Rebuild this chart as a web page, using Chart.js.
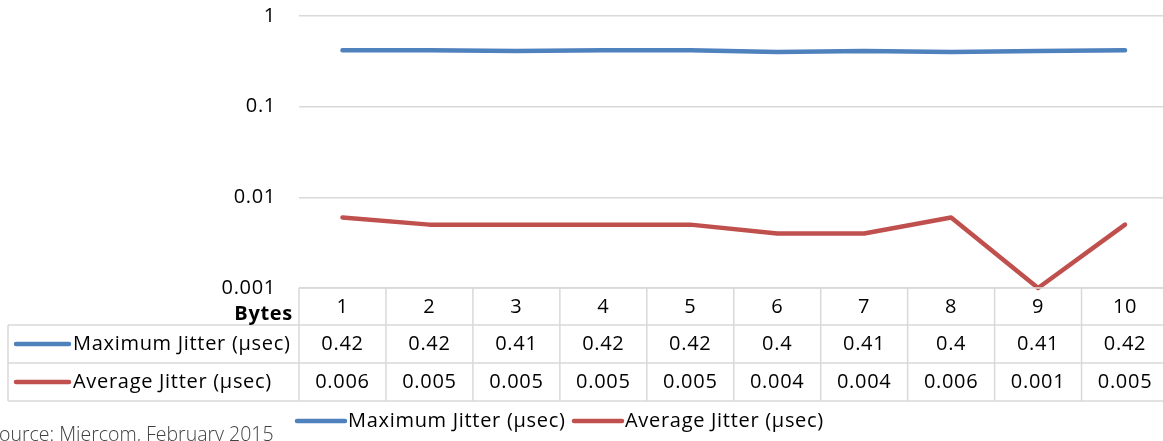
<!DOCTYPE html>
<html>
<head>
<meta charset="utf-8">
<script src="https://cdn.jsdelivr.net/npm/chart.js@4.4.0/dist/chart.umd.min.js"></script>
<style>
  html, body { margin: 0; padding: 0; background: #fff; overflow: hidden; }
  #wrap { width: 1172px; height: 441px; position: relative; }
</style>
</head>
<body>
<div id="wrap"><canvas id="jitterChart"></canvas></div>
<script>
// Jitter by packet size (log scale) with Excel-style data table
const categories = ['1', '2', '3', '4', '5', '6', '7', '8', '9', '10'];
const maxJitter = [0.42, 0.42, 0.41, 0.42, 0.42, 0.4, 0.41, 0.4, 0.41, 0.42];
const avgJitter = [0.006, 0.005, 0.005, 0.005, 0.005, 0.004, 0.004, 0.006, 0.001, 0.005];
const yTicks = [0.001, 0.01, 0.1, 1];
const yTickLabels = ['0.001', '0.01', '0.1', '1'];
const seriesNames = ['Maximum Jitter (µsec)', 'Average Jitter (µsec)'];
const tableHeader = 'Bytes';
const sourceNote = 'Source: Miercom, February 2015';

const FONT = '"Open Sans", sans-serif';
const FSIZE = 20;
const SPACING = '0.7px';
const GRID = '#d9d9d9';

// draws the y labels, the data table, the legend and the source line
const tablePlugin = {
    id: 'dataTable',
    afterDraw(chart) {
        const ctx = chart.ctx;
        const x = chart.scales.x;
        const y = chart.scales.y;
        const area = chart.chartArea;
        const colW = (area.right - area.left) / categories.length;
        const tableLeft = 8;
        const rows = [area.bottom, area.bottom + 37, area.bottom + 75, area.bottom + 113];

        ctx.save();
        ctx.fillStyle = '#000';
        ctx.textBaseline = 'middle';
        ctx.letterSpacing = SPACING;
        ctx.font = FSIZE + 'px ' + FONT;

        // y axis labels, placed with the log scale
        ctx.textAlign = 'right';
        y.ticks.forEach(t => {
            const i = yTicks.indexOf(t.value);
            if (i >= 0) ctx.fillText(yTickLabels[i], area.left - 23, y.getPixelForValue(t.value));
        });

        ctx.strokeStyle = GRID;
        ctx.lineWidth = 1.5;

        // horizontal lines
        ctx.beginPath();
        ctx.moveTo(area.left, rows[0]); ctx.lineTo(area.right, rows[0]);
        for (let i = 1; i < rows.length; i++) {
            ctx.moveTo(tableLeft, rows[i]); ctx.lineTo(area.right, rows[i]);
        }
        // vertical lines
        ctx.moveTo(tableLeft, rows[1]); ctx.lineTo(tableLeft, rows[3]);
        for (let i = 0; i <= categories.length; i++) {
            const px = area.left + i * colW;
            ctx.moveTo(px, rows[0]); ctx.lineTo(px, rows[3]);
        }
        ctx.stroke();

        // header row
        ctx.font = 'bold ' + FSIZE + 'px ' + FONT;
        ctx.textAlign = 'right';
        ctx.fillText(tableHeader, area.left - 6, rows[0] + 26);
        ctx.font = FSIZE + 'px ' + FONT;
        ctx.textAlign = 'center';
        categories.forEach((c, i) => {
            ctx.fillText(c, x.getPixelForValue(i), rows[0] + 19);
        });

        // value rows
        const series = [maxJitter, avgJitter];
        chart.data.datasets.forEach((ds, r) => {
            const cy = (rows[r + 1] + rows[r + 2]) / 2;
            ctx.strokeStyle = ds.borderColor;
            ctx.lineWidth = 4.5;
            ctx.lineCap = 'round';
            ctx.beginPath();
            ctx.moveTo(16, cy); ctx.lineTo(69, cy);
            ctx.stroke();
            ctx.textAlign = 'left';
            ctx.fillText(ds.label, 73, cy);
            ctx.textAlign = 'center';
            series[r].forEach((v, i) => {
                ctx.fillText(String(v), x.getPixelForValue(i), cy);
            });
        });

        // legend
        const ly = 421;
        const legendX = [297, 574];
        chart.data.datasets.forEach((ds, r) => {
            ctx.strokeStyle = ds.borderColor;
            ctx.lineWidth = 4.5;
            ctx.beginPath();
            ctx.moveTo(legendX[r], ly); ctx.lineTo(legendX[r] + 48, ly);
            ctx.stroke();
            ctx.textAlign = 'left';
            ctx.fillText(ds.label, legendX[r] + 51, ly);
        });

        // source note, clipped at the left edge
        ctx.letterSpacing = '0px';
        ctx.font = '300 19.5px ' + FONT;
        ctx.fillStyle = '#404040';
        const sw = ctx.measureText('S').width;
        ctx.fillText(sourceNote, -sw - 1, 435);
        ctx.restore();
    }
};

const ctx = document.getElementById('jitterChart').getContext('2d');
new Chart(ctx, {
    type: 'line',
    data: {
        labels: categories,
        datasets: [
            {
                label: seriesNames[0],
                data: maxJitter,
                borderColor: '#4f81bd',
                borderWidth: 4.5,
                pointRadius: 0,
                tension: 0,
                clip: false,
                borderCapStyle: 'round',
                borderJoinStyle: 'round'
            },
            {
                label: seriesNames[1],
                data: avgJitter,
                borderColor: '#c0504d',
                borderWidth: 4.5,
                pointRadius: 0,
                tension: 0,
                clip: false,
                borderCapStyle: 'round',
                borderJoinStyle: 'round'
            }
        ]
    },
    options: {
        responsive: true,
        maintainAspectRatio: false,
        animation: false,
        layout: {
            padding: { left: 0, right: 3.5, top: 16, bottom: 153 }
        },
        plugins: {
            legend: { display: false },
            tooltip: { enabled: false }
        },
        scales: {
            x: {
                type: 'category',
                offset: true,
                display: false
            },
            y: {
                type: 'logarithmic',
                min: 0.001,
                max: 1,
                afterFit(scale) {
                    scale.width = 299;
                    scale.paddingTop = 0;
                    scale.paddingBottom = 0;
                },
                afterBuildTicks(scale) {
                    scale.ticks = yTicks.map(v => ({ value: v }));
                },
                border: { display: false },
                grid: {
                    color: GRID,
                    lineWidth: 1.5,
                    drawTicks: false
                },
                ticks: { display: false }
            }
        }
    },
    plugins: [tablePlugin]
});
</script>
</body>
</html>
